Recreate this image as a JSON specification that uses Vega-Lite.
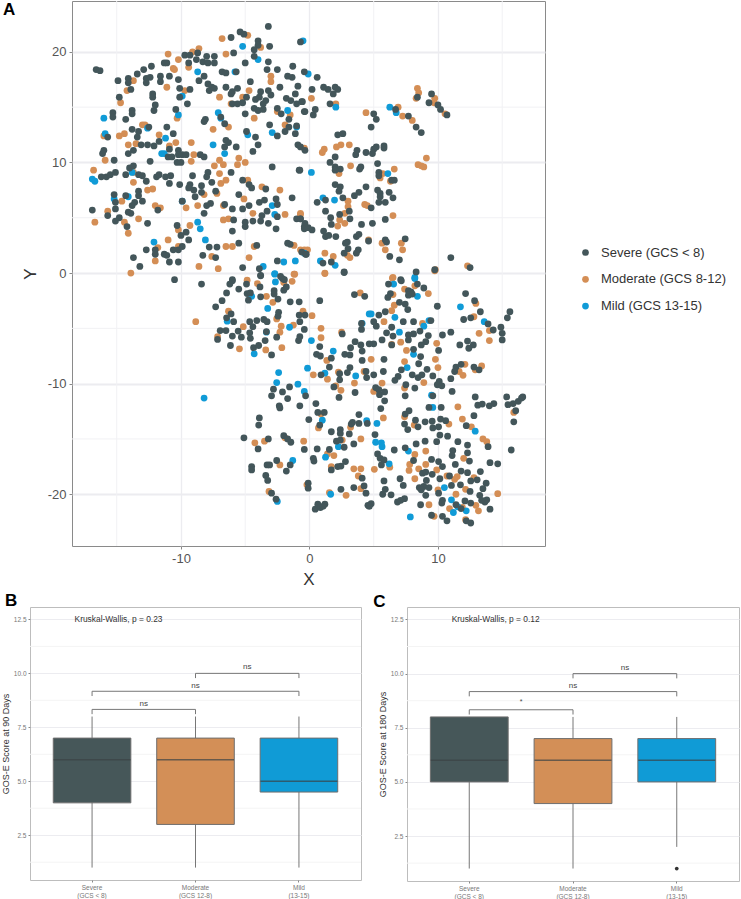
{"$schema":"https://vega.github.io/schema/vega-lite/v6.json","padding":{"left":0,"top":0,"right":0,"bottom":0},"background":"white","spacing":3,
"config":{"font":"Liberation Sans","axis":{"gridColor":"#ececf0","tickColor":"#888888","domain":false},"view":{"stroke":"#8a8a8a"}},
"datasets":{"pts":[
{"x":-6.8,"y":21.2,"g":"M"},{"x":-4.8,"y":21.5,"g":"M"},{"x":-3.8,"y":20.4,"g":"M"},{"x":-8.6,"y":20.3,"g":"M"},{"x":-9.1,"y":20.0,"g":"M"},{"x":-6.5,"y":19.8,"g":"M"},{"x":-11.0,"y":19.8,"g":"M"},{"x":-10.2,"y":19.3,"g":"M"},{"x":-9.4,"y":18.6,"g":"M"},{"x":-10.6,"y":18.5,"g":"M"},{"x":-10.5,"y":18.4,"g":"M"},{"x":-13.7,"y":17.4,"g":"M"},{"x":-11.1,"y":16.8,"g":"M"},{"x":-14.2,"y":16.5,"g":"M"},{"x":-9.7,"y":16.5,"g":"M"},{"x":-3.0,"y":17.8,"g":"M"},{"x":-3.0,"y":17.3,"g":"M"},{"x":-4.7,"y":16.5,"g":"M"},{"x":-7.0,"y":15.9,"g":"M"},{"x":-5.2,"y":15.9,"g":"M"},{"x":-6.1,"y":15.3,"g":"M"},{"x":-14.7,"y":15.4,"g":"M"},{"x":-10.3,"y":14.0,"g":"M"},{"x":-4.3,"y":14.0,"g":"M"},{"x":-2.5,"y":14.6,"g":"M"},{"x":-1.5,"y":14.3,"g":"M"},{"x":-13.0,"y":13.4,"g":"M"},{"x":-12.8,"y":13.4,"g":"M"},{"x":-7.5,"y":13.0,"g":"M"},{"x":-6.3,"y":13.2,"g":"M"},{"x":-1.9,"y":13.4,"g":"M"},{"x":-14.8,"y":12.4,"g":"M"},{"x":-14.4,"y":12.6,"g":"M"},{"x":-16.0,"y":12.4,"g":"M"},{"x":-11.7,"y":12.5,"g":"M"},{"x":-9.2,"y":11.8,"g":"M"},{"x":-10.4,"y":11.8,"g":"M"},{"x":-14.1,"y":11.6,"g":"M"},{"x":-13.5,"y":11.7,"g":"M"},{"x":-10.9,"y":11.5,"g":"M"},{"x":-9.0,"y":10.7,"g":"M"},{"x":-15.9,"y":10.2,"g":"M"},{"x":-9.2,"y":10.1,"g":"M"},{"x":-7.4,"y":9.7,"g":"M"},{"x":-7.0,"y":10.2,"g":"M"},{"x":-6.7,"y":9.8,"g":"M"},{"x":-5.6,"y":9.8,"g":"M"},{"x":-5.5,"y":10.4,"g":"M"},{"x":-5.0,"y":10.0,"g":"M"},{"x":-16.8,"y":9.3,"g":"M"},{"x":-13.7,"y":9.1,"g":"M"},{"x":-13.7,"y":8.2,"g":"M"},{"x":-7.0,"y":9.0,"g":"M"},{"x":-6.5,"y":8.4,"g":"M"},{"x":-6.9,"y":8.1,"g":"M"},{"x":-4.8,"y":8.4,"g":"M"},{"x":-3.7,"y":7.8,"g":"M"},{"x":-2.3,"y":7.5,"g":"M"},{"x":-12.6,"y":7.5,"g":"M"},{"x":-12.2,"y":7.6,"g":"M"},{"x":-7.2,"y":7.2,"g":"M"},{"x":-8.2,"y":7.1,"g":"M"},{"x":-5.1,"y":6.7,"g":"M"},{"x":-14.6,"y":6.5,"g":"M"},{"x":-12.0,"y":6.1,"g":"M"},{"x":-11.6,"y":5.9,"g":"M"},{"x":-9.6,"y":5.9,"g":"M"},{"x":-8.7,"y":6.1,"g":"M"},{"x":-6.7,"y":6.1,"g":"M"},{"x":-15.7,"y":5.6,"g":"M"},{"x":-4.4,"y":5.4,"g":"M"},{"x":-1.9,"y":5.3,"g":"M"},{"x":-0.7,"y":5.3,"g":"M"},{"x":-6.7,"y":4.8,"g":"M"},{"x":-6.3,"y":4.9,"g":"M"},{"x":-14.4,"y":4.6,"g":"M"},{"x":-16.7,"y":4.6,"g":"M"},{"x":-13.3,"y":4.9,"g":"M"},{"x":-14.1,"y":3.6,"g":"M"},{"x":-9.3,"y":4.3,"g":"M"},{"x":-10.2,"y":3.9,"g":"M"},{"x":-11.0,"y":3.0,"g":"M"},{"x":-10.2,"y":2.4,"g":"M"},{"x":-6.5,"y":2.4,"g":"M"},{"x":-6.0,"y":2.4,"g":"M"},{"x":-4.3,"y":2.4,"g":"M"},{"x":-1.2,"y":2.5,"g":"M"},{"x":-0.7,"y":2.1,"g":"M"},{"x":-4.7,"y":1.4,"g":"M"},{"x":-7.6,"y":1.5,"g":"M"},{"x":-12.0,"y":1.1,"g":"M"},{"x":-11.8,"y":2.3,"g":"M"},{"x":-8.6,"y":0.6,"g":"M"},{"x":-7.1,"y":0.4,"g":"M"},{"x":-13.9,"y":0.0,"g":"M"},{"x":-1.2,"y":-0.1,"g":"M"},{"x":-0.4,"y":2.1,"g":"M"},
{"x":0.15,"y":15.8,"g":"M"},{"x":2.05,"y":15.3,"g":"M"},{"x":4.4,"y":14.5,"g":"M"},{"x":6.9,"y":15.0,"g":"M"},{"x":8.4,"y":16.7,"g":"M"},{"x":8.5,"y":16.3,"g":"M"},{"x":8.3,"y":15.8,"g":"M"},{"x":9.75,"y":15.8,"g":"M"},{"x":9.7,"y":15.4,"g":"M"},{"x":7.25,"y":14.2,"g":"M"},{"x":8.0,"y":13.8,"g":"M"},{"x":10.55,"y":14.4,"g":"M"},{"x":3.1,"y":11.6,"g":"M"},{"x":2.45,"y":11.6,"g":"M"},{"x":2.1,"y":11.4,"g":"M"},{"x":1.15,"y":11.2,"g":"M"},{"x":1.0,"y":10.9,"g":"M"},{"x":-0.4,"y":11.3,"g":"M"},{"x":3.2,"y":9.7,"g":"M"},{"x":2.3,"y":9.0,"g":"M"},{"x":9.1,"y":10.4,"g":"M"},{"x":8.45,"y":9.8,"g":"M"},{"x":8.7,"y":9.7,"g":"M"},{"x":8.9,"y":9.6,"g":"M"},{"x":6.6,"y":9.4,"g":"M"},{"x":5.7,"y":9.0,"g":"M"},{"x":5.5,"y":8.6,"g":"M"},{"x":6.3,"y":8.3,"g":"M"},{"x":3.0,"y":6.5,"g":"M"},{"x":3.0,"y":6.0,"g":"M"},{"x":4.3,"y":6.2,"g":"M"},{"x":4.5,"y":6.1,"g":"M"},{"x":2.75,"y":5.4,"g":"M"},{"x":2.35,"y":4.8,"g":"M"},{"x":2.2,"y":4.25,"g":"M"},{"x":2.75,"y":4.5,"g":"M"},{"x":6.5,"y":5.2,"g":"M"},{"x":-0.7,"y":5.4,"g":"M"},{"x":4.6,"y":3.0,"g":"M"},{"x":5.65,"y":2.7,"g":"M"},{"x":7.15,"y":2.7,"g":"M"},{"x":5.9,"y":2.1,"g":"M"},{"x":7.25,"y":2.1,"g":"M"},{"x":1.2,"y":1.8,"g":"M"},{"x":1.85,"y":1.5,"g":"M"},{"x":2.95,"y":1.6,"g":"M"},{"x":3.15,"y":1.4,"g":"M"},{"x":-0.15,"y":2.1,"g":"M"},{"x":1.2,"y":0,"g":"M"},{"x":6.5,"y":-0.4,"g":"M"},{"x":12.3,"y":0.65,"g":"M"},{"x":9.8,"y":0.3,"g":"M"},
{"x":-4.85,"y":-0.65,"g":"M"},{"x":-4.05,"y":-0.95,"g":"M"},{"x":-1.35,"y":-0.75,"g":"M"},{"x":-1.15,"y":-0.1,"g":"M"},{"x":-2.0,"y":-0.85,"g":"M"},{"x":1.2,"y":-0.05,"g":"M"},{"x":3.95,"y":-1.8,"g":"M"},{"x":-3.35,"y":-2.1,"g":"M"},{"x":-2.85,"y":-2.65,"g":"M"},{"x":-6.3,"y":-3.45,"g":"M"},{"x":-8.85,"y":-4.4,"g":"M"},{"x":-2.55,"y":-4.15,"g":"M"},{"x":-0.5,"y":-3.45,"g":"M"},{"x":0.2,"y":-3.85,"g":"M"},{"x":-5.15,"y":-4.85,"g":"M"},{"x":-2.2,"y":-4.8,"g":"M"},{"x":-1.25,"y":-4.7,"g":"M"},{"x":-2.3,"y":-5.35,"g":"M"},{"x":-7.15,"y":-5.75,"g":"M"},{"x":-5.45,"y":-6.85,"g":"M"},{"x":-3.4,"y":-6.95,"g":"M"},{"x":-2.15,"y":-6.75,"g":"M"},{"x":0.9,"y":-5.0,"g":"M"},{"x":0.9,"y":-5.85,"g":"M"},{"x":2.5,"y":-5.35,"g":"M"},{"x":1.35,"y":-7.9,"g":"M"},{"x":0.3,"y":-9.2,"g":"M"},{"x":1.4,"y":-9.6,"g":"M"},{"x":2.25,"y":-8.95,"g":"M"},{"x":3.5,"y":-9.95,"g":"M"},{"x":2.05,"y":-10.2,"g":"M"},{"x":2.45,"y":-10.6,"g":"M"},{"x":0.9,"y":-12.75,"g":"M"},{"x":0.7,"y":-14,"g":"M"},{"x":3.2,"y":-13.95,"g":"M"},{"x":2.55,"y":-15.1,"g":"M"},{"x":4.0,"y":-15,"g":"M"},{"x":-4.25,"y":-15.35,"g":"M"},{"x":-3.5,"y":-15.2,"g":"M"},{"x":-1.9,"y":-14.9,"g":"M"},{"x":-0.45,"y":-15.2,"g":"M"},{"x":1.4,"y":-16.35,"g":"M"},{"x":1.9,"y":-16.5,"g":"M"},{"x":-2.3,"y":-17.35,"g":"M"},{"x":1.7,"y":-17.5,"g":"M"},{"x":3.45,"y":-17.7,"g":"M"},{"x":4.0,"y":-17.7,"g":"M"},{"x":3.8,"y":-18.35,"g":"M"},{"x":-0.2,"y":-19.15,"g":"M"},{"x":-3.15,"y":-19.75,"g":"M"},{"x":1.55,"y":-19.85,"g":"M"},{"x":2.85,"y":-20.1,"g":"M"},{"x":4.0,"y":-19.5,"g":"M"},
{"x":6.45,"y":-0.45,"g":"M"},{"x":7.4,"y":-1.45,"g":"M"},{"x":8.2,"y":-1.15,"g":"M"},{"x":9.75,"y":0.2,"g":"M"},{"x":9.25,"y":-1.85,"g":"M"},{"x":6.5,"y":-1.95,"g":"M"},{"x":6.6,"y":-2.9,"g":"M"},{"x":6.4,"y":-3.4,"g":"M"},{"x":12.95,"y":-2.75,"g":"M"},{"x":12.8,"y":-3.95,"g":"M"},{"x":5.8,"y":-4.4,"g":"M"},{"x":8.8,"y":-4.55,"g":"M"},{"x":14,"y":-5.2,"g":"M"},{"x":13.2,"y":-5.45,"g":"M"},{"x":14.0,"y":-6.1,"g":"M"},{"x":7.1,"y":-6.25,"g":"M"},{"x":9.9,"y":-6.35,"g":"M"},{"x":6.4,"y":-6.45,"g":"M"},{"x":7.55,"y":-7,"g":"M"},{"x":9.8,"y":-7.8,"g":"M"},{"x":7.4,"y":-8,"g":"M"},{"x":10,"y":-8.55,"g":"M"},{"x":4.8,"y":-7.8,"g":"M"},{"x":12.1,"y":-8.25,"g":"M"},{"x":13.4,"y":-8.4,"g":"M"},{"x":12.9,"y":-8.75,"g":"M"},{"x":11.65,"y":-8.9,"g":"M"},{"x":11.95,"y":-9.25,"g":"M"},{"x":8.9,"y":-9.9,"g":"M"},{"x":7.4,"y":-10.4,"g":"M"},{"x":5.65,"y":-9.95,"g":"M"},{"x":5.0,"y":-10.7,"g":"M"},{"x":4.25,"y":-8.9,"g":"M"},{"x":11.55,"y":-12.1,"g":"M"},{"x":11.9,"y":-13.2,"g":"M"},{"x":15.9,"y":-12.6,"g":"M"},{"x":7.4,"y":-13,"g":"M"},{"x":5.75,"y":-13.1,"g":"M"},{"x":8.15,"y":-13.75,"g":"M"},{"x":10.85,"y":-13.65,"g":"M"},{"x":12.6,"y":-13.9,"g":"M"},{"x":13.5,"y":-15,"g":"M"},{"x":13.8,"y":-15.25,"g":"M"},{"x":8.2,"y":-16.4,"g":"M"},{"x":9.05,"y":-16.1,"g":"M"},{"x":12,"y":-16.75,"g":"M"},{"x":7.8,"y":-17.3,"g":"M"},{"x":9.05,"y":-17.3,"g":"M"},{"x":8.5,"y":-17.7,"g":"M"},{"x":7.75,"y":-17.85,"g":"M"},{"x":9.9,"y":-17.8,"g":"M"},{"x":6.25,"y":-17.55,"g":"M"},{"x":5.05,"y":-17.75,"g":"M"},{"x":8.2,"y":-18.6,"g":"M"},{"x":10.7,"y":-18.35,"g":"M"},{"x":11.5,"y":-18.4,"g":"M"},{"x":11.3,"y":-18.65,"g":"M"},{"x":12.8,"y":-18.5,"g":"M"},{"x":12.15,"y":-19.55,"g":"M"},{"x":11.4,"y":-20,"g":"M"},{"x":14.65,"y":-19.95,"g":"M"},{"x":10,"y":-19.6,"g":"M"},{"x":9.3,"y":-20.95,"g":"M"},{"x":10.9,"y":-21.3,"g":"M"},{"x":11.9,"y":-21.2,"g":"M"},{"x":12.95,"y":-21,"g":"M"},{"x":13.15,"y":-21.5,"g":"M"},{"x":9.7,"y":-22,"g":"M"},{"x":12.15,"y":-22.3,"g":"M"},
{"x":-0.5,"y":21.0,"g":"L"},{"x":-5.2,"y":20.5,"g":"L"},{"x":-4.0,"y":19.3,"g":"L"},{"x":-8.7,"y":18.2,"g":"L"},{"x":-5.8,"y":18.2,"g":"L"},{"x":-0.1,"y":18.0,"g":"L"},{"x":-9.9,"y":16.0,"g":"L"},{"x":-10.2,"y":14.3,"g":"L"},{"x":-16.0,"y":14.0,"g":"L"},{"x":-7.1,"y":14.5,"g":"L"},{"x":-6.9,"y":14.0,"g":"L"},{"x":-1.7,"y":14.7,"g":"L"},{"x":-1.0,"y":13.2,"g":"L"},{"x":-15.9,"y":12.6,"g":"L"},{"x":-12.6,"y":13.1,"g":"L"},{"x":-2.9,"y":12.7,"g":"L"},{"x":-4.8,"y":12.5,"g":"L"},{"x":-11.2,"y":12.2,"g":"L"},{"x":-7.5,"y":11.6,"g":"L"},{"x":-11.5,"y":10.8,"g":"L"},{"x":-11.3,"y":10.8,"g":"L"},{"x":-6.6,"y":10.8,"g":"L"},{"x":-16.9,"y":8.5,"g":"L"},{"x":-16.7,"y":8.3,"g":"L"},{"x":-13.8,"y":9.1,"g":"L"},{"x":-15.2,"y":6.7,"g":"L"},{"x":-14.1,"y":6.9,"g":"L"},{"x":-9.9,"y":6.5,"g":"L"},{"x":-2.9,"y":6.1,"g":"L"},{"x":-2.7,"y":5.3,"g":"L"},{"x":-8.7,"y":4.6,"g":"L"},{"x":-8.5,"y":4.0,"g":"L"},{"x":-8.1,"y":3.0,"g":"L"},{"x":-12.1,"y":2.8,"g":"L"},{"x":-3.6,"y":0.6,"g":"L"},{"x":-2.0,"y":1.0,"g":"L"},{"x":-1.1,"y":1.1,"g":"L"},{"x":-2.7,"y":-0.1,"g":"L"},{"x":-0.4,"y":1.8,"g":"L"},
{"x":2.05,"y":15.0,"g":"L"},{"x":6.25,"y":15.0,"g":"L"},{"x":6.75,"y":14.5,"g":"L"},{"x":0.15,"y":9.1,"g":"L"},{"x":6.1,"y":9.0,"g":"L"},{"x":1.05,"y":6.8,"g":"L"},{"x":1.95,"y":6.6,"g":"L"},{"x":0.85,"y":1.1,"g":"L"},{"x":2.0,"y":0.7,"g":"L"},{"x":8.2,"y":-0.4,"g":"L"},
{"x":-2.7,"y":-0.05,"g":"L"},{"x":-2.65,"y":-0.8,"g":"L"},{"x":-4.5,"y":-2.1,"g":"L"},{"x":-3.25,"y":-3.2,"g":"L"},{"x":-6.4,"y":-4.35,"g":"L"},{"x":-3.35,"y":-5.35,"g":"L"},{"x":-1.55,"y":-4.9,"g":"L"},{"x":-4.3,"y":-7.3,"g":"L"},{"x":0.15,"y":-6.1,"g":"L"},{"x":1.85,"y":-7.05,"g":"L"},{"x":4.65,"y":-3.7,"g":"L"},{"x":4.1,"y":-4.55,"g":"L"},{"x":-2.4,"y":-9,"g":"L"},{"x":-0.15,"y":-8.6,"g":"L"},{"x":1.2,"y":-9.05,"g":"L"},{"x":3.6,"y":-9.3,"g":"L"},{"x":-2.55,"y":-9.9,"g":"L"},{"x":-0.9,"y":-10.05,"g":"L"},{"x":-0.4,"y":-10.7,"g":"L"},{"x":-8.2,"y":-11.3,"g":"L"},{"x":1.0,"y":-13.3,"g":"L"},{"x":4.45,"y":-13.35,"g":"L"},{"x":2.25,"y":-15.7,"g":"L"},{"x":1.25,"y":-16.65,"g":"L"},{"x":-1.3,"y":-16.95,"g":"L"},{"x":-2.5,"y":-20.65,"g":"L"},{"x":1.65,"y":-20.0,"g":"L"},
{"x":6.55,"y":-1,"g":"L"},{"x":8.2,"y":-0.5,"g":"L"},{"x":8.4,"y":-2.1,"g":"L"},{"x":4.8,"y":-3.7,"g":"L"},{"x":6.65,"y":-4,"g":"L"},{"x":11.75,"y":-3.05,"g":"L"},{"x":13.6,"y":-4.4,"g":"L"},{"x":9.3,"y":-4.3,"g":"L"},{"x":8.9,"y":-4.8,"g":"L"},{"x":7,"y":-5.35,"g":"L"},{"x":8.1,"y":-7.35,"g":"L"},{"x":7.6,"y":-8.55,"g":"L"},{"x":9.5,"y":-11.05,"g":"L"},{"x":9.6,"y":-12.15,"g":"L"},{"x":5.25,"y":-13.6,"g":"L"},{"x":12.9,"y":-14.3,"g":"L"},{"x":5.15,"y":-15.3,"g":"L"},{"x":5.6,"y":-15.35,"g":"L"},{"x":5.65,"y":-15.7,"g":"L"},{"x":7.7,"y":-16.1,"g":"L"},{"x":6.2,"y":-17.25,"g":"L"},{"x":10.5,"y":-19.4,"g":"L"},{"x":11.05,"y":-20.5,"g":"L"},{"x":11.55,"y":-21.15,"g":"L"},{"x":11.2,"y":-21.65,"g":"L"},{"x":12.2,"y":-21.5,"g":"L"},{"x":7.85,"y":-22.05,"g":"L"},
{"x":-16.6,"y":18.4,"g":"S"},{"x":-16.3,"y":18.3,"g":"S"},{"x":-14.9,"y":17.4,"g":"S"},{"x":-14.1,"y":17.6,"g":"S"},{"x":-14.1,"y":17.2,"g":"S"},{"x":-13.4,"y":18.0,"g":"S"},{"x":-12.9,"y":18.4,"g":"S"},{"x":-12.3,"y":18.7,"g":"S"},{"x":-12.7,"y":17.6,"g":"S"},{"x":-12.4,"y":17.7,"g":"S"},{"x":-12.7,"y":17.2,"g":"S"},{"x":-11.6,"y":17.8,"g":"S"},{"x":-11.6,"y":17.3,"g":"S"},{"x":-10.9,"y":17.8,"g":"S"},{"x":-11.3,"y":19.0,"g":"S"},{"x":-11.1,"y":19.0,"g":"S"},{"x":-10.2,"y":17.5,"g":"S"},{"x":-9.7,"y":19.7,"g":"S"},{"x":-9.3,"y":19.7,"g":"S"},{"x":-8.7,"y":19.9,"g":"S"},{"x":-8.8,"y":19.3,"g":"S"},{"x":-9.4,"y":19.0,"g":"S"},{"x":-8.0,"y":19.6,"g":"S"},{"x":-8.3,"y":19.1,"g":"S"},{"x":-7.9,"y":19.0,"g":"S"},{"x":-7.4,"y":19.6,"g":"S"},{"x":-7.4,"y":19.0,"g":"S"},{"x":-5.9,"y":19.9,"g":"S"},{"x":-6.1,"y":21.3,"g":"S"},{"x":-5.4,"y":21.8,"g":"S"},{"x":-5.1,"y":21.6,"g":"S"},{"x":-3.2,"y":22.3,"g":"S"},{"x":-4.0,"y":21.0,"g":"S"},{"x":-4.0,"y":20.6,"g":"S"},{"x":-4.3,"y":20.2,"g":"S"},{"x":-3.1,"y":20.5,"g":"S"},{"x":-4.3,"y":19.6,"g":"S"},{"x":-3.2,"y":19.1,"g":"S"},{"x":-5.0,"y":19.0,"g":"S"},{"x":-0.7,"y":20.9,"g":"S"},{"x":-3.3,"y":18.4,"g":"S"},{"x":-2.5,"y":18.4,"g":"S"},{"x":-1.3,"y":18.7,"g":"S"},{"x":-0.4,"y":18.2,"g":"S"},{"x":-6.8,"y":18.2,"g":"S"},{"x":-6.5,"y":18.1,"g":"S"},{"x":-5.7,"y":18.2,"g":"S"},{"x":-8.6,"y":17.4,"g":"S"},{"x":-8.2,"y":17.8,"g":"S"},{"x":-7.9,"y":17.1,"g":"S"},{"x":-7.6,"y":16.8,"g":"S"},{"x":-7.8,"y":16.5,"g":"S"},{"x":-7.4,"y":16.7,"g":"S"},{"x":-10.1,"y":16.7,"g":"S"},{"x":-9.3,"y":16.6,"g":"S"},{"x":-10.1,"y":15.9,"g":"S"},{"x":-13.9,"y":16.6,"g":"S"},{"x":-12.2,"y":16.2,"g":"S"},{"x":-12.2,"y":15.9,"g":"S"},{"x":-14.8,"y":15.9,"g":"S"},{"x":-9.5,"y":15.3,"g":"S"},{"x":-12.0,"y":15.2,"g":"S"},{"x":-12.1,"y":14.7,"g":"S"},{"x":-10.4,"y":14.8,"g":"S"},{"x":-15.3,"y":14.5,"g":"S"},{"x":-15.3,"y":14.1,"g":"S"},{"x":-13.8,"y":14.7,"g":"S"},{"x":-13.8,"y":14.4,"g":"S"},{"x":-14.3,"y":13.9,"g":"S"},{"x":-6.5,"y":16.8,"g":"S"},{"x":-6.0,"y":16.4,"g":"S"},{"x":-6.1,"y":16.2,"g":"S"},{"x":-5.6,"y":16.7,"g":"S"},{"x":-4.6,"y":17.3,"g":"S"},{"x":-2.3,"y":16.8,"g":"S"},{"x":-1.7,"y":17.8,"g":"S"},{"x":-1.35,"y":17.7,"g":"S"},{"x":-0.9,"y":16.9,"g":"S"},{"x":-3.8,"y":16.4,"g":"S"},{"x":-3.2,"y":16.5,"g":"S"},{"x":-3.9,"y":15.9,"g":"S"},{"x":-4.2,"y":15.7,"g":"S"},{"x":-3.0,"y":16.1,"g":"S"},{"x":-3.4,"y":15.6,"g":"S"},{"x":-3.6,"y":15.3,"g":"S"},{"x":-4.9,"y":15.9,"g":"S"},{"x":-5.2,"y":15.4,"g":"S"},{"x":-5.6,"y":15.3,"g":"S"},{"x":-6.0,"y":15.3,"g":"S"},{"x":-1.1,"y":16.2,"g":"S"},{"x":-1.8,"y":15.8,"g":"S"},{"x":-1.45,"y":15.6,"g":"S"},{"x":-1.0,"y":15.3,"g":"S"},{"x":-0.6,"y":15.5,"g":"S"},{"x":-4.3,"y":14.9,"g":"S"},{"x":-4.0,"y":14.7,"g":"S"},{"x":-3.6,"y":14.8,"g":"S"},{"x":-5.0,"y":14.4,"g":"S"},{"x":-2.5,"y":14.9,"g":"S"},{"x":-2.2,"y":14.4,"g":"S"},{"x":-0.4,"y":14.6,"g":"S"},{"x":-1.6,"y":13.9,"g":"S"},{"x":-3.1,"y":13.4,"g":"S"},{"x":-1.0,"y":13.3,"g":"S"},{"x":-1.9,"y":12.8,"g":"S"},{"x":-1.1,"y":12.6,"g":"S"},{"x":-1.6,"y":13.2,"g":"S"},{"x":-8.1,"y":13.9,"g":"S"},{"x":-8.2,"y":13.7,"g":"S"},{"x":-6.9,"y":14.1,"g":"S"},{"x":-6.6,"y":13.5,"g":"S"},{"x":-11.1,"y":13.2,"g":"S"},{"x":-12.5,"y":13.2,"g":"S"},{"x":-13.8,"y":13.0,"g":"S"},{"x":-13.3,"y":12.8,"g":"S"},{"x":-15.7,"y":12.3,"g":"S"},{"x":-10.6,"y":12.6,"g":"S"},{"x":-13.4,"y":12.3,"g":"S"},{"x":-4.9,"y":12.8,"g":"S"},{"x":-2.5,"y":12.4,"g":"S"},{"x":-4.2,"y":12.3,"g":"S"},{"x":-4.0,"y":11.6,"g":"S"},{"x":-4.4,"y":11.0,"g":"S"},{"x":-6.5,"y":12.0,"g":"S"},{"x":-6.3,"y":11.8,"g":"S"},{"x":-6.6,"y":11.4,"g":"S"},{"x":-5.7,"y":11.4,"g":"S"},{"x":-0.9,"y":11.6,"g":"S"},{"x":-0.7,"y":11.4,"g":"S"},{"x":-16.0,"y":11.1,"g":"S"},{"x":-16.1,"y":10.8,"g":"S"},{"x":-13.7,"y":11.1,"g":"S"},{"x":-14.1,"y":10.8,"g":"S"},{"x":-13.1,"y":11.6,"g":"S"},{"x":-12.6,"y":11.6,"g":"S"},{"x":-12.1,"y":11.5,"g":"S"},{"x":-11.7,"y":11.9,"g":"S"},{"x":-10.9,"y":11.2,"g":"S"},{"x":-15.2,"y":10.2,"g":"S"},{"x":-12.4,"y":10.1,"g":"S"},{"x":-11.0,"y":10.5,"g":"S"},{"x":-10.7,"y":10.5,"g":"S"},{"x":-10.2,"y":11.1,"g":"S"},{"x":-10.2,"y":10.7,"g":"S"},{"x":-9.9,"y":10.7,"g":"S"},{"x":-9.6,"y":10.7,"g":"S"},{"x":-10.3,"y":10.0,"g":"S"},{"x":-10.0,"y":10.0,"g":"S"},{"x":-8.5,"y":10.7,"g":"S"},{"x":-8.2,"y":10.5,"g":"S"},{"x":-2.9,"y":9.6,"g":"S"},{"x":-0.8,"y":9.3,"g":"S"},{"x":-14.0,"y":9.5,"g":"S"},{"x":-13.7,"y":9.7,"g":"S"},{"x":-16.2,"y":8.7,"g":"S"},{"x":-15.8,"y":8.7,"g":"S"},{"x":-15.5,"y":8.9,"g":"S"},{"x":-15.1,"y":9.1,"g":"S"},{"x":-14.3,"y":8.9,"g":"S"},{"x":-13.3,"y":8.9,"g":"S"},{"x":-13.0,"y":8.8,"g":"S"},{"x":-12.7,"y":8.3,"g":"S"},{"x":-11.9,"y":8.7,"g":"S"},{"x":-11.7,"y":8.9,"g":"S"},{"x":-11.2,"y":8.7,"g":"S"},{"x":-10.8,"y":8.8,"g":"S"},{"x":-10.9,"y":8.1,"g":"S"},{"x":-9.1,"y":8.8,"g":"S"},{"x":-7.9,"y":9.1,"g":"S"},{"x":-6.1,"y":9.1,"g":"S"},{"x":-8.0,"y":8.7,"g":"S"},{"x":-7.6,"y":8.2,"g":"S"},{"x":-10.1,"y":8.0,"g":"S"},{"x":-9.3,"y":8.0,"g":"S"},{"x":-9.4,"y":7.7,"g":"S"},{"x":-9.0,"y":7.5,"g":"S"},{"x":-8.4,"y":7.9,"g":"S"},{"x":-7.3,"y":7.4,"g":"S"},{"x":-5.2,"y":8.4,"g":"S"},{"x":-4.7,"y":8.0,"g":"S"},{"x":-4.5,"y":7.7,"g":"S"},{"x":-5.5,"y":7.1,"g":"S"},{"x":-3.4,"y":7.6,"g":"S"},{"x":-8.4,"y":7.3,"g":"S"},{"x":-8.9,"y":6.9,"g":"S"},{"x":-15.2,"y":7.1,"g":"S"},{"x":-14.3,"y":7.0,"g":"S"},{"x":-13.3,"y":7.4,"g":"S"},{"x":-13.3,"y":7.0,"g":"S"},{"x":-13.6,"y":6.4,"g":"S"},{"x":-13.0,"y":6.5,"g":"S"},{"x":-13.8,"y":6.1,"g":"S"},{"x":-15.1,"y":6.4,"g":"S"},{"x":-15.1,"y":5.8,"g":"S"},{"x":-11.8,"y":5.7,"g":"S"},{"x":-16.9,"y":5.7,"g":"S"},{"x":-15.7,"y":5.2,"g":"S"},{"x":-14.1,"y":5.5,"g":"S"},{"x":-13.9,"y":5.4,"g":"S"},{"x":-14.8,"y":5.0,"g":"S"},{"x":-15.1,"y":4.7,"g":"S"},{"x":-14.2,"y":4.2,"g":"S"},{"x":-12.6,"y":4.5,"g":"S"},{"x":-9.9,"y":6.5,"g":"S"},{"x":-7.7,"y":6.3,"g":"S"},{"x":-8.0,"y":6.1,"g":"S"},{"x":-6.6,"y":6.2,"g":"S"},{"x":-8.2,"y":5.4,"g":"S"},{"x":-6.0,"y":5.8,"g":"S"},{"x":-5.2,"y":5.8,"g":"S"},{"x":-4.7,"y":6.1,"g":"S"},{"x":-3.9,"y":6.4,"g":"S"},{"x":-3.5,"y":6.6,"g":"S"},{"x":-2.6,"y":6.7,"g":"S"},{"x":-2.5,"y":6.2,"g":"S"},{"x":-1.35,"y":6.8,"g":"S"},{"x":-3.3,"y":5.6,"g":"S"},{"x":-3.7,"y":5.2,"g":"S"},{"x":-2.5,"y":5.1,"g":"S"},{"x":-5.9,"y":4.8,"g":"S"},{"x":-5.0,"y":4.6,"g":"S"},{"x":-5.0,"y":4.2,"g":"S"},{"x":-4.4,"y":4.7,"g":"S"},{"x":-3.8,"y":4.7,"g":"S"},{"x":-3.2,"y":4.5,"g":"S"},{"x":-2.6,"y":4.0,"g":"S"},{"x":-6.0,"y":3.8,"g":"S"},{"x":-1.0,"y":4.9,"g":"S"},{"x":-0.7,"y":4.9,"g":"S"},{"x":-0.4,"y":4.2,"g":"S"},{"x":-10.3,"y":4.3,"g":"S"},{"x":-9.6,"y":3.7,"g":"S"},{"x":-10.0,"y":3.4,"g":"S"},{"x":-9.4,"y":3.0,"g":"S"},{"x":-1.7,"y":2.7,"g":"S"},{"x":-1.5,"y":2.6,"g":"S"},{"x":-0.6,"y":1.9,"g":"S"},{"x":-0.3,"y":1.7,"g":"S"},{"x":-5.5,"y":2.7,"g":"S"},{"x":-7.8,"y":2.35,"g":"S"},{"x":-7.2,"y":2.35,"g":"S"},{"x":-4.1,"y":2.5,"g":"S"},{"x":-12.7,"y":2.1,"g":"S"},{"x":-12.0,"y":2.1,"g":"S"},{"x":-13.7,"y":1.4,"g":"S"},{"x":-13.2,"y":0.6,"g":"S"},{"x":-12.0,"y":1.7,"g":"S"},{"x":-11.3,"y":1.7,"g":"S"},{"x":-11.1,"y":1.6,"g":"S"},{"x":-10.9,"y":1.0,"g":"S"},{"x":-10.2,"y":1.0,"g":"S"},{"x":-10.6,"y":2.1,"g":"S"},{"x":-10.2,"y":2.1,"g":"S"},{"x":-9.9,"y":2.4,"g":"S"},{"x":-8.3,"y":1.6,"g":"S"},{"x":-7.3,"y":1.4,"g":"S"},{"x":-5.2,"y":0.5,"g":"S"},{"x":-3.9,"y":0.4,"g":"S"},{"x":-3.8,"y":-0.2,"g":"S"},{"x":-2.5,"y":1.1,"g":"S"},{"x":-10.5,"y":-0.6,"g":"S"},{"x":-6.0,"y":-0.6,"g":"S"},{"x":-2.1,"y":-0.5,"g":"S"},
{"x":0.6,"y":17.7,"g":"S"},{"x":1.1,"y":16.8,"g":"S"},{"x":1.45,"y":16.6,"g":"S"},{"x":2.0,"y":16.8,"g":"S"},{"x":2.2,"y":16.6,"g":"S"},{"x":1.85,"y":16.2,"g":"S"},{"x":0.2,"y":16.6,"g":"S"},{"x":-0.55,"y":15.5,"g":"S"},{"x":1.6,"y":15.3,"g":"S"},{"x":0.45,"y":14.8,"g":"S"},{"x":-0.35,"y":14.6,"g":"S"},{"x":0.3,"y":14.3,"g":"S"},{"x":5.0,"y":14.4,"g":"S"},{"x":5.2,"y":13.9,"g":"S"},{"x":4.8,"y":13.2,"g":"S"},{"x":6.7,"y":14.8,"g":"S"},{"x":8.4,"y":15.9,"g":"S"},{"x":9.5,"y":16.2,"g":"S"},{"x":9.3,"y":15.4,"g":"S"},{"x":10.0,"y":15.2,"g":"S"},{"x":10.2,"y":14.8,"g":"S"},{"x":10.7,"y":14.3,"g":"S"},{"x":7.7,"y":14.2,"g":"S"},{"x":8.3,"y":13.2,"g":"S"},{"x":8.7,"y":12.7,"g":"S"},{"x":2.2,"y":12.5,"g":"S"},{"x":2.6,"y":12.6,"g":"S"},{"x":2.0,"y":10.5,"g":"S"},{"x":1.6,"y":10.0,"g":"S"},{"x":2.0,"y":9.6,"g":"S"},{"x":2.4,"y":9.4,"g":"S"},{"x":2.0,"y":9.3,"g":"S"},{"x":3.7,"y":11.1,"g":"S"},{"x":3.6,"y":10.7,"g":"S"},{"x":4.4,"y":10.9,"g":"S"},{"x":4.9,"y":10.8,"g":"S"},{"x":5.0,"y":11.2,"g":"S"},{"x":5.2,"y":11.4,"g":"S"},{"x":5.8,"y":11.5,"g":"S"},{"x":5.8,"y":11.3,"g":"S"},{"x":-0.35,"y":11.1,"g":"S"},{"x":5.3,"y":9.9,"g":"S"},{"x":4.0,"y":9.6,"g":"S"},{"x":3.9,"y":9.4,"g":"S"},{"x":5.4,"y":9.1,"g":"S"},{"x":5.4,"y":8.8,"g":"S"},{"x":6.4,"y":8.4,"g":"S"},{"x":6.6,"y":8.4,"g":"S"},{"x":-0.75,"y":9.3,"g":"S"},{"x":2.0,"y":8.0,"g":"S"},{"x":2.4,"y":7.8,"g":"S"},{"x":2.3,"y":7.4,"g":"S"},{"x":4.4,"y":7.8,"g":"S"},{"x":3.85,"y":7.3,"g":"S"},{"x":3.5,"y":7.0,"g":"S"},{"x":5.3,"y":7.5,"g":"S"},{"x":5.5,"y":7.2,"g":"S"},{"x":5.5,"y":6.9,"g":"S"},{"x":6.2,"y":7.3,"g":"S"},{"x":6.5,"y":6.8,"g":"S"},{"x":5.4,"y":6.4,"g":"S"},{"x":5.9,"y":6.4,"g":"S"},{"x":4.8,"y":5.9,"g":"S"},{"x":2.6,"y":6.8,"g":"S"},{"x":0.6,"y":6.4,"g":"S"},{"x":1.25,"y":6.6,"g":"S"},{"x":1.25,"y":5.6,"g":"S"},{"x":3.1,"y":5.6,"g":"S"},{"x":2.35,"y":5.3,"g":"S"},{"x":1.65,"y":5.0,"g":"S"},{"x":1.7,"y":4.4,"g":"S"},{"x":3.15,"y":4.9,"g":"S"},{"x":4.05,"y":4.4,"g":"S"},{"x":4.9,"y":4.5,"g":"S"},{"x":5.9,"y":4.85,"g":"S"},{"x":-0.7,"y":4.9,"g":"S"},{"x":-0.35,"y":4.5,"g":"S"},{"x":-0.4,"y":4.0,"g":"S"},{"x":-0.1,"y":4.1,"g":"S"},{"x":0.2,"y":3.9,"g":"S"},{"x":1.1,"y":3.8,"g":"S"},{"x":1.25,"y":3.3,"g":"S"},{"x":1.5,"y":3.4,"g":"S"},{"x":2.05,"y":3.3,"g":"S"},{"x":3.65,"y":3.3,"g":"S"},{"x":3.85,"y":3.5,"g":"S"},{"x":2.95,"y":2.8,"g":"S"},{"x":2.8,"y":2.7,"g":"S"},{"x":3.0,"y":2.2,"g":"S"},{"x":2.7,"y":1.8,"g":"S"},{"x":3.8,"y":2.1,"g":"S"},{"x":3.65,"y":1.8,"g":"S"},{"x":4.6,"y":2.9,"g":"S"},{"x":5.9,"y":3.0,"g":"S"},{"x":6.0,"y":2.8,"g":"S"},{"x":7.45,"y":3.1,"g":"S"},{"x":6.25,"y":1.5,"g":"S"},{"x":7.0,"y":1.2,"g":"S"},{"x":11.0,"y":1.4,"g":"S"},{"x":12.5,"y":0.5,"g":"S"},{"x":9.75,"y":0.3,"g":"S"},{"x":8.3,"y":0.1,"g":"S"},{"x":1.05,"y":0.9,"g":"S"},{"x":1.7,"y":1.0,"g":"S"},{"x":-0.25,"y":1.7,"g":"S"},{"x":2.7,"y":0.1,"g":"S"},{"x":7.1,"y":-0.6,"g":"S"},
{"x":-8.4,"y":-1.0,"g":"S"},{"x":-6.0,"y":-0.7,"g":"S"},{"x":-6.2,"y":-1.0,"g":"S"},{"x":-6.45,"y":-1.8,"g":"S"},{"x":-6.8,"y":-2.5,"g":"S"},{"x":-7.3,"y":-3.05,"g":"S"},{"x":-5.5,"y":-1.45,"g":"S"},{"x":-4.9,"y":-1.0,"g":"S"},{"x":-3.8,"y":-0.25,"g":"S"},{"x":-3.85,"y":-1.25,"g":"S"},{"x":-4.85,"y":-1.85,"g":"S"},{"x":-4.6,"y":-1.8,"g":"S"},{"x":-4.75,"y":-2.45,"g":"S"},{"x":-3.8,"y":-2.15,"g":"S"},{"x":-2.75,"y":-1.6,"g":"S"},{"x":-2.75,"y":-1.9,"g":"S"},{"x":-2.45,"y":-2.35,"g":"S"},{"x":-2.0,"y":-1.55,"g":"S"},{"x":-1.8,"y":-1.25,"g":"S"},{"x":-2.25,"y":-0.3,"g":"S"},{"x":-1.95,"y":-0.6,"g":"S"},{"x":-1.5,"y":-2.6,"g":"S"},{"x":-0.8,"y":-2.6,"g":"S"},{"x":0.8,"y":-2.5,"g":"S"},{"x":2.7,"y":0.05,"g":"S"},{"x":3.5,"y":-1.95,"g":"S"},{"x":4.3,"y":-2.1,"g":"S"},{"x":-6.1,"y":-3.7,"g":"S"},{"x":-6.45,"y":-4.05,"g":"S"},{"x":-5.9,"y":-4.4,"g":"S"},{"x":-4.65,"y":-4.4,"g":"S"},{"x":-4.1,"y":-4.3,"g":"S"},{"x":-3.55,"y":-4.2,"g":"S"},{"x":-3.3,"y":-4.4,"g":"S"},{"x":-2.4,"y":-3.55,"g":"S"},{"x":-2.45,"y":-3.9,"g":"S"},{"x":-0.8,"y":-3.8,"g":"S"},{"x":-0.35,"y":-3.8,"g":"S"},{"x":-0.75,"y":-4.4,"g":"S"},{"x":-4.4,"y":-4.85,"g":"S"},{"x":-4.65,"y":-5.4,"g":"S"},{"x":-4.6,"y":-5.9,"g":"S"},{"x":-3.35,"y":-5.3,"g":"S"},{"x":-6.95,"y":-5.2,"g":"S"},{"x":-6.5,"y":-5.2,"g":"S"},{"x":-5.55,"y":-5.25,"g":"S"},{"x":-6.0,"y":-5.7,"g":"S"},{"x":-5.3,"y":-5.8,"g":"S"},{"x":-7.15,"y":-6.0,"g":"S"},{"x":-6.15,"y":-6.55,"g":"S"},{"x":-3.45,"y":-6.1,"g":"S"},{"x":-2.55,"y":-5.8,"g":"S"},{"x":-0.4,"y":-5.1,"g":"S"},{"x":-0.75,"y":-5.75,"g":"S"},{"x":-0.85,"y":-6.1,"g":"S"},{"x":-4.35,"y":-6.75,"g":"S"},{"x":-3.95,"y":-6.55,"g":"S"},{"x":-2.95,"y":-7.4,"g":"S"},{"x":2.55,"y":-5.5,"g":"S"},{"x":4.05,"y":-4.55,"g":"S"},{"x":4.05,"y":-5.1,"g":"S"},{"x":3.55,"y":-6.2,"g":"S"},{"x":4.0,"y":-6.5,"g":"S"},{"x":4.1,"y":-7.05,"g":"S"},{"x":3.2,"y":-6.75,"g":"S"},{"x":2.75,"y":-7.35,"g":"S"},{"x":3.15,"y":-7.4,"g":"S"},{"x":4.1,"y":-7.9,"g":"S"},{"x":0.8,"y":-6.65,"g":"S"},{"x":0.55,"y":-7.35,"g":"S"},{"x":0.85,"y":-7.5,"g":"S"},{"x":1.7,"y":-7.7,"g":"S"},{"x":1.55,"y":-8.5,"g":"S"},{"x":0.9,"y":-9.2,"g":"S"},{"x":2.35,"y":-9.1,"g":"S"},{"x":2.35,"y":-9.65,"g":"S"},{"x":3.15,"y":-8.55,"g":"S"},{"x":2.95,"y":-9.0,"g":"S"},{"x":4.4,"y":-8.9,"g":"S"},{"x":4.45,"y":-9.45,"g":"S"},{"x":1.9,"y":-10.3,"g":"S"},{"x":2.3,"y":-11.25,"g":"S"},{"x":3.55,"y":-10.8,"g":"S"},{"x":-2.8,"y":-10.5,"g":"S"},{"x":-2.95,"y":-11.1,"g":"S"},{"x":-2.1,"y":-10.75,"g":"S"},{"x":-1.55,"y":-10.3,"g":"S"},{"x":-1.7,"y":-11.35,"g":"S"},{"x":-2.35,"y":-12.0,"g":"S"},{"x":-2.3,"y":-12.2,"g":"S"},{"x":-0.3,"y":-11.1,"g":"S"},{"x":-0.75,"y":-12.0,"g":"S"},{"x":0.5,"y":-11.8,"g":"S"},{"x":0.65,"y":-12.6,"g":"S"},{"x":1.15,"y":-12.6,"g":"S"},{"x":-0.05,"y":-13.25,"g":"S"},{"x":0.8,"y":-13.75,"g":"S"},{"x":3.85,"y":-12.8,"g":"S"},{"x":3.35,"y":-13.5,"g":"S"},{"x":3.25,"y":-13.65,"g":"S"},{"x":3.85,"y":-13.6,"g":"S"},{"x":-3.9,"y":-13.1,"g":"S"},{"x":-3.95,"y":-13.75,"g":"S"},{"x":-5.1,"y":-14.9,"g":"S"},{"x":-3.2,"y":-15.0,"g":"S"},{"x":-2.0,"y":-14.7,"g":"S"},{"x":-1.7,"y":-15.0,"g":"S"},{"x":-1.45,"y":-15.3,"g":"S"},{"x":-4.0,"y":-15.9,"g":"S"},{"x":1.7,"y":-14.35,"g":"S"},{"x":2.4,"y":-14.15,"g":"S"},{"x":2.4,"y":-14.5,"g":"S"},{"x":3.1,"y":-14.55,"g":"S"},{"x":2.1,"y":-15.2,"g":"S"},{"x":2.4,"y":-15.1,"g":"S"},{"x":2.7,"y":-15.75,"g":"S"},{"x":3.45,"y":-15.45,"g":"S"},{"x":-0.4,"y":-15.95,"g":"S"},{"x":0.6,"y":-15.9,"g":"S"},{"x":1.55,"y":-15.95,"g":"S"},{"x":-4.5,"y":-17.5,"g":"S"},{"x":-4.5,"y":-17.8,"g":"S"},{"x":-3.3,"y":-17.35,"g":"S"},{"x":-3.1,"y":-17.35,"g":"S"},{"x":-2.55,"y":-16.95,"g":"S"},{"x":-1.5,"y":-17.35,"g":"S"},{"x":-1.8,"y":-17.9,"g":"S"},{"x":0.3,"y":-16.75,"g":"S"},{"x":0.35,"y":-17,"g":"S"},{"x":1.7,"y":-17.8,"g":"S"},{"x":2.2,"y":-17.5,"g":"S"},{"x":2.45,"y":-17.45,"g":"S"},{"x":2.8,"y":-17.05,"g":"S"},{"x":4.1,"y":-18.55,"g":"S"},{"x":-3.4,"y":-18.3,"g":"S"},{"x":-3.25,"y":-18.75,"g":"S"},{"x":-0.1,"y":-19.0,"g":"S"},{"x":-0.1,"y":-19.45,"g":"S"},{"x":-2.95,"y":-19.9,"g":"S"},{"x":-2.6,"y":-20.45,"g":"S"},{"x":2.45,"y":-19.55,"g":"S"},{"x":3.45,"y":-19.4,"g":"S"},{"x":4.25,"y":-19.25,"g":"S"},{"x":4.4,"y":-19.9,"g":"S"},{"x":0.45,"y":-21.35,"g":"S"},{"x":0.65,"y":-20.9,"g":"S"},{"x":0.85,"y":-21.2,"g":"S"},{"x":1.2,"y":-20.9,"g":"S"},{"x":1.05,"y":-21.1,"g":"S"},{"x":4.55,"y":-21,"g":"S"},
{"x":6.15,"y":-1.0,"g":"S"},{"x":7.15,"y":-0.7,"g":"S"},{"x":8.4,"y":-1.0,"g":"S"},{"x":8.9,"y":-1.35,"g":"S"},{"x":7.7,"y":-1.6,"g":"S"},{"x":7.9,"y":-1.7,"g":"S"},{"x":7.7,"y":-2.0,"g":"S"},{"x":8.0,"y":-1.9,"g":"S"},{"x":6.3,"y":-1.85,"g":"S"},{"x":6.1,"y":-2.2,"g":"S"},{"x":9.95,"y":-3.0,"g":"S"},{"x":12.15,"y":-1.85,"g":"S"},{"x":12.85,"y":-2.5,"g":"S"},{"x":13.3,"y":-3.5,"g":"S"},{"x":15.6,"y":-3.5,"g":"S"},{"x":15.4,"y":-4.05,"g":"S"},{"x":7.0,"y":-2.65,"g":"S"},{"x":7.45,"y":-2.8,"g":"S"},{"x":7.65,"y":-3.3,"g":"S"},{"x":5.4,"y":-3.8,"g":"S"},{"x":5.9,"y":-3.5,"g":"S"},{"x":5.0,"y":-4.4,"g":"S"},{"x":5.2,"y":-4.8,"g":"S"},{"x":7.3,"y":-4.4,"g":"S"},{"x":8.1,"y":-4.4,"g":"S"},{"x":9.45,"y":-4.3,"g":"S"},{"x":12.55,"y":-4.05,"g":"S"},{"x":12.0,"y":-4.2,"g":"S"},{"x":13.9,"y":-4.6,"g":"S"},{"x":14.3,"y":-5.15,"g":"S"},{"x":14.9,"y":-4.9,"g":"S"},{"x":15.0,"y":-5.45,"g":"S"},{"x":15.0,"y":-6.05,"g":"S"},{"x":6.4,"y":-4.9,"g":"S"},{"x":6.0,"y":-5.4,"g":"S"},{"x":6.5,"y":-5.7,"g":"S"},{"x":6.4,"y":-6.5,"g":"S"},{"x":5.65,"y":-6.05,"g":"S"},{"x":5.0,"y":-6.4,"g":"S"},{"x":4.65,"y":-6.4,"g":"S"},{"x":8.6,"y":-5.25,"g":"S"},{"x":8.1,"y":-5.5,"g":"S"},{"x":7.7,"y":-5.6,"g":"S"},{"x":7.7,"y":-6.05,"g":"S"},{"x":9.25,"y":-5.65,"g":"S"},{"x":9.05,"y":-6.2,"g":"S"},{"x":8.7,"y":-6.5,"g":"S"},{"x":8.1,"y":-6.9,"g":"S"},{"x":10.35,"y":-5.6,"g":"S"},{"x":11.0,"y":-5.35,"g":"S"},{"x":11.7,"y":-6.5,"g":"S"},{"x":12.3,"y":-6.15,"g":"S"},{"x":12.75,"y":-6.5,"g":"S"},{"x":12.4,"y":-6.8,"g":"S"},{"x":10.05,"y":-7,"g":"S"},{"x":8.65,"y":-7.55,"g":"S"},{"x":5.8,"y":-7.8,"g":"S"},{"x":8.5,"y":-8.2,"g":"S"},{"x":7.15,"y":-8.75,"g":"S"},{"x":6.9,"y":-9.35,"g":"S"},{"x":6.65,"y":-9.7,"g":"S"},{"x":5.75,"y":-8.9,"g":"S"},{"x":5.0,"y":-9.2,"g":"S"},{"x":8.0,"y":-9.2,"g":"S"},{"x":8.45,"y":-9.45,"g":"S"},{"x":8.75,"y":-9.2,"g":"S"},{"x":9.15,"y":-8.7,"g":"S"},{"x":9.6,"y":-9.3,"g":"S"},{"x":11.8,"y":-8.25,"g":"S"},{"x":11.4,"y":-8.5,"g":"S"},{"x":11.3,"y":-8.9,"g":"S"},{"x":11.0,"y":-9.55,"g":"S"},{"x":12.8,"y":-8.5,"g":"S"},{"x":13.2,"y":-8.75,"g":"S"},{"x":7.5,"y":-10.1,"g":"S"},{"x":8.2,"y":-10.4,"g":"S"},{"x":7.45,"y":-11.1,"g":"S"},{"x":10.1,"y":-9.8,"g":"S"},{"x":9.95,"y":-10.1,"g":"S"},{"x":10.3,"y":-10.2,"g":"S"},{"x":11.1,"y":-10.7,"g":"S"},{"x":9.6,"y":-11.1,"g":"S"},{"x":5.15,"y":-10.35,"g":"S"},{"x":5.4,"y":-10.55,"g":"S"},{"x":5.45,"y":-11,"g":"S"},{"x":5.85,"y":-10.75,"g":"S"},{"x":5.85,"y":-11.55,"g":"S"},{"x":5.55,"y":-12.25,"g":"S"},{"x":12.9,"y":-11.2,"g":"S"},{"x":13.1,"y":-11.95,"g":"S"},{"x":13.45,"y":-11.85,"g":"S"},{"x":14,"y":-12,"g":"S"},{"x":14.35,"y":-11.8,"g":"S"},{"x":15.35,"y":-11.2,"g":"S"},{"x":15.45,"y":-11.9,"g":"S"},{"x":15.85,"y":-11.8,"g":"S"},{"x":16.25,"y":-11.6,"g":"S"},{"x":16.6,"y":-11.2,"g":"S"},{"x":16.5,"y":-11.3,"g":"S"},{"x":16.05,"y":-12.45,"g":"S"},{"x":15.9,"y":-13.45,"g":"S"},{"x":12.8,"y":-12.9,"g":"S"},{"x":9.3,"y":-12.15,"g":"S"},{"x":10.25,"y":-12.15,"g":"S"},{"x":7.75,"y":-12.45,"g":"S"},{"x":7.45,"y":-12.75,"g":"S"},{"x":8.25,"y":-13.3,"g":"S"},{"x":9.0,"y":-13.45,"g":"S"},{"x":9.55,"y":-13.4,"g":"S"},{"x":10.2,"y":-13.2,"g":"S"},{"x":10.6,"y":-13.35,"g":"S"},{"x":7.4,"y":-13.65,"g":"S"},{"x":7.65,"y":-14.15,"g":"S"},{"x":8.45,"y":-13.9,"g":"S"},{"x":9.6,"y":-14,"g":"S"},{"x":10.05,"y":-13.9,"g":"S"},{"x":12.2,"y":-13.8,"g":"S"},{"x":4.5,"y":-13.6,"g":"S"},{"x":5.1,"y":-14.6,"g":"S"},{"x":10.15,"y":-14.65,"g":"S"},{"x":10.75,"y":-14.75,"g":"S"},{"x":9.9,"y":-15.25,"g":"S"},{"x":9.0,"y":-15.2,"g":"S"},{"x":8.3,"y":-15.45,"g":"S"},{"x":7.45,"y":-15.8,"g":"S"},{"x":6.6,"y":-16,"g":"S"},{"x":11.55,"y":-15.25,"g":"S"},{"x":12.3,"y":-15.55,"g":"S"},{"x":12.3,"y":-16.25,"g":"S"},{"x":13.9,"y":-15.7,"g":"S"},{"x":15.7,"y":-16,"g":"S"},{"x":11.15,"y":-16.05,"g":"S"},{"x":11.1,"y":-16.5,"g":"S"},{"x":5.3,"y":-16.35,"g":"S"},{"x":5.5,"y":-16.75,"g":"S"},{"x":5.8,"y":-16.9,"g":"S"},{"x":5.6,"y":-17.35,"g":"S"},{"x":8.1,"y":-16.95,"g":"S"},{"x":9.5,"y":-16.85,"g":"S"},{"x":10.05,"y":-17.05,"g":"S"},{"x":10.35,"y":-17.5,"g":"S"},{"x":11.35,"y":-17.3,"g":"S"},{"x":12.45,"y":-17.0,"g":"S"},{"x":14.05,"y":-17.15,"g":"S"},{"x":14.65,"y":-17.25,"g":"S"},{"x":5.8,"y":-18.8,"g":"S"},{"x":7.05,"y":-18.6,"g":"S"},{"x":7.3,"y":-19.2,"g":"S"},{"x":8.8,"y":-18.1,"g":"S"},{"x":9.05,"y":-18.0,"g":"S"},{"x":9.55,"y":-18.2,"g":"S"},{"x":9.1,"y":-18.75,"g":"S"},{"x":10.15,"y":-18.6,"g":"S"},{"x":10.9,"y":-18.35,"g":"S"},{"x":11.8,"y":-17.9,"g":"S"},{"x":12.3,"y":-18.05,"g":"S"},{"x":13.3,"y":-17.95,"g":"S"},{"x":12.55,"y":-18.8,"g":"S"},{"x":13.05,"y":-18.7,"g":"S"},{"x":13.75,"y":-19.0,"g":"S"},{"x":11.05,"y":-19.2,"g":"S"},{"x":11.75,"y":-19.15,"g":"S"},{"x":8.55,"y":-19.4,"g":"S"},{"x":8.9,"y":-19.3,"g":"S"},{"x":9.3,"y":-19.4,"g":"S"},{"x":8.7,"y":-19.6,"g":"S"},{"x":13.5,"y":-19.5,"g":"S"},{"x":5.9,"y":-19.55,"g":"S"},{"x":5.7,"y":-20,"g":"S"},{"x":6.35,"y":-20.05,"g":"S"},{"x":7.4,"y":-20.4,"g":"S"},{"x":7.1,"y":-20.55,"g":"S"},{"x":6.85,"y":-20.7,"g":"S"},{"x":9.05,"y":-20.1,"g":"S"},{"x":10.05,"y":-19.9,"g":"S"},{"x":10.35,"y":-20.55,"g":"S"},{"x":10.3,"y":-20.8,"g":"S"},{"x":12.5,"y":-19.75,"g":"S"},{"x":12.1,"y":-20.6,"g":"S"},{"x":12.55,"y":-20.8,"g":"S"},{"x":13.25,"y":-20.1,"g":"S"},{"x":13.8,"y":-20.5,"g":"S"},{"x":13.65,"y":-20.7,"g":"S"},{"x":13.4,"y":-20.55,"g":"S"},{"x":14.05,"y":-21.35,"g":"S"},{"x":8.65,"y":-20.95,"g":"S"},{"x":4.8,"y":-20.85,"g":"S"},{"x":4.65,"y":-21.1,"g":"S"},{"x":9.5,"y":-21.9,"g":"S"},{"x":10.35,"y":-22,"g":"S"},{"x":10.7,"y":-22.4,"g":"S"},{"x":12.2,"y":-22.4,"g":"S"},{"x":12.55,"y":-22.6,"g":"S"},{"x":11.4,"y":-20.95,"g":"S"},{"x":11.8,"y":-21.3,"g":"S"}
],
"br":[{"b":"a","c":"Severe|(GCS < 8)","v":8.11,"o":1},{"b":"a","c":"Severe|(GCS < 8)","v":8.33,"o":2},{"b":"a","c":"Moderate|(GCS 12-8)","v":8.33,"o":3},{"b":"a","c":"Moderate|(GCS 12-8)","v":8.11,"o":4},{"b":"b","c":"Severe|(GCS < 8)","v":8.95,"o":1},{"b":"b","c":"Severe|(GCS < 8)","v":9.17,"o":2},{"b":"b","c":"Mild|(13-15)","v":9.17,"o":3},{"b":"b","c":"Mild|(13-15)","v":8.95,"o":4},{"b":"c","c":"Moderate|(GCS 12-8)","v":9.78,"o":1},{"b":"c","c":"Moderate|(GCS 12-8)","v":10,"o":2},{"b":"c","c":"Mild|(13-15)","v":10,"o":3},{"b":"c","c":"Mild|(13-15)","v":9.78,"o":4}],
"grid":[{"v":1.25},{"v":3.75},{"v":6.25},{"v":8.75},{"v":11.25}],
"b90":[{"c":"Severe|(GCS < 8)","lo":1,"q1":4,"med":6,"q3":7,"hi":8},{"c":"Moderate|(GCS 12-8)","lo":1,"q1":3,"med":6,"q3":7,"hi":8},{"c":"Mild|(13-15)","lo":1,"q1":4.5,"med":5,"q3":7,"hi":8}],
"b180":[{"c":"Severe|(GCS < 8)","lo":1,"q1":5,"med":6,"q3":8,"hi":8},{"c":"Moderate|(GCS 12-8)","lo":1,"q1":4,"med":6,"q3":7,"hi":8},{"c":"Mild|(13-15)","lo":2,"q1":5,"med":6,"q3":7,"hi":8}]
},
"vconcat":[
{"hconcat":[
{"width":1,"height":545,"view":{"stroke":null},"data":{"values":[{"t":"A"}]},"mark":{"type":"text","fontSize":17,"fontWeight":"bold","align":"left","baseline":"middle","color":"#000000"},"encoding":{"x":{"datum":-27,"scale":{"domain":[0,1]},"axis":null},"y":{"datum":536,"scale":{"domain":[0,545]},"axis":null},"text":{"field":"t"}}},
{"width":473,"height":545,"layer":[
{"data":{"values":[{"v":-15},{"v":-5},{"v":5},{"v":15}]},"mark":{"type":"rule","color":"#f1f1f4","strokeWidth":1},"encoding":{"x":{"field":"v","type":"quantitative","scale":{"domain":[-18.48,18.33],"nice":false,"zero":false},"axis":{"values":[-10,0,10],"labelExpr":"datum.value","title":"X","titleFontSize":17,"titleFontWeight":"normal","titleColor":"#333333","labelFontSize":13,"labelColor":"#555555","tickSize":3,"gridWidth":1.3,"titlePadding":6,"labelPadding":3}}}},
{"data":{"values":[{"v":-15},{"v":-5},{"v":5},{"v":15}]},"mark":{"type":"rule","color":"#f1f1f4","strokeWidth":1},"encoding":{"y":{"field":"v","type":"quantitative","scale":{"domain":[-24.68,24.6],"nice":false,"zero":false},"axis":{"values":[-20,-10,0,10,20],"labelExpr":"datum.value","title":"Y","titleFontSize":17,"titleFontWeight":"normal","titleColor":"#333333","labelFontSize":13,"labelColor":"#555555","tickSize":3,"gridWidth":2,"titlePadding":8,"labelPadding":3}}}},
{"data":{"name":"pts"},"mark":{"type":"point","filled":true,"opacity":1,"size":46},"encoding":{"x":{"field":"x","type":"quantitative","title":"X"},"y":{"field":"y","type":"quantitative","title":"Y"},"color":{"field":"g","type":"nominal","sort":null,"scale":{"domain":["S","M","L"],"range":["#43565A","#D48E55","#109BD7"]},"legend":{"title":null,"orient":"none","legendX":549,"legendY":245,"labelFontSize":13,"labelColor":"#333333","symbolSize":45,"rowPadding":12.8,"labelOffset":9,"labelExpr":"datum.value=='S'?'Severe (GCS < 8)':datum.value=='M'?'Moderate (GCS 8-12)':'Mild (GCS 13-15)'"}}}}
]}
],"spacing":-11},
{"hconcat":[
{"width":331,"height":273,"view":{"stroke":"#bdbdbd"},"layer":[
{"data":{"name":"grid"},"mark":{"type":"rule","color":"#f4f4f4"},"encoding":{"y":{"field":"v","type":"quantitative","title":"GOS-E Score at 90 Days","scale":{"domain":[0.425,13.075],"nice":false,"zero":false},"axis":{"values":[2.5,5,7.5,10,12.5],"format":".1f","titleFontSize":9,"titleFontWeight":"normal","titleColor":"#333333","labelFontSize":6.5,"labelColor":"#777777","tickSize":2,"titlePadding":3,"labelPadding":2}}}},
{"data":{"name":"b90"},"mark":{"type":"rule","color":"#777777"},"encoding":{"x":{"field":"c","type":"nominal","sort":null,"scale":{"domain":["Severe|(GCS < 8)","Moderate|(GCS 12-8)","Mild|(13-15)"],"paddingInner":0.25,"paddingOuter":0.225},"axis":{"title":null,"labelAngle":0,"labelFontSize":6.5,"labelColor":"#777777","labelLineHeight":8,"tickSize":2,"labelPadding":2,"labelExpr":"split(datum.label,'|')"}},"y":{"field":"lo","type":"quantitative","title":"GOS-E Score at 90 Days"},"y2":{"field":"hi"}}},
{"data":{"name":"b90"},"mark":{"type":"bar","stroke":"#6e6e6e","strokeWidth":1},"encoding":{"x":{"field":"c","type":"nominal","sort":null},"y":{"field":"q1","type":"quantitative","title":"GOS-E Score at 90 Days"},"y2":{"field":"q3"},"color":{"field":"c","type":"nominal","legend":null,"scale":{"domain":["Severe|(GCS < 8)","Moderate|(GCS 12-8)","Mild|(13-15)"],"range":["#465759","#D38F57","#109BD6"]}}}},
{"data":{"name":"b90"},"mark":{"type":"tick","color":"#3a4244","size":77,"thickness":1.5},"encoding":{"x":{"field":"c","type":"nominal","sort":null},"y":{"field":"med","type":"quantitative","title":"GOS-E Score at 90 Days"}}},
{"data":{"name":"br"},"mark":{"type":"line","color":"#777777","strokeWidth":1,"interpolate":"linear"},"encoding":{"x":{"field":"c","type":"nominal","sort":null},"y":{"field":"v","type":"quantitative","title":"GOS-E Score at 90 Days"},"detail":{"field":"b"},"order":{"field":"o","type":"quantitative"}}},
{"data":{"values":[{"c":"Severe|(GCS < 8)","v":12.5,"t":"Kruskal-Wallis, p = 0.23"}]},"mark":{"type":"text","align":"left","dx":-17.5,"fontSize":8.4,"color":"#333333"},"encoding":{"x":{"field":"c","type":"nominal","sort":null},"y":{"field":"v","type":"quantitative","title":"GOS-E Score at 90 Days"},"text":{"field":"t"}}},
{"data":{"values":[{"c":"Moderate|(GCS 12-8)","v":8.6,"t":"ns"}]},"mark":{"type":"text","dx":-51.7,"fontSize":8,"color":"#444444"},"encoding":{"x":{"field":"c","type":"nominal","sort":null},"y":{"field":"v","type":"quantitative","title":"GOS-E Score at 90 Days"},"text":{"field":"t"}}},
{"data":{"values":[{"c":"Moderate|(GCS 12-8)","v":9.43,"t":"ns"}]},"mark":{"type":"text","fontSize":8,"color":"#444444"},"encoding":{"x":{"field":"c","type":"nominal","sort":null},"y":{"field":"v","type":"quantitative","title":"GOS-E Score at 90 Days"},"text":{"field":"t"}}},
{"data":{"values":[{"c":"Moderate|(GCS 12-8)","v":10.28,"t":"ns"}]},"mark":{"type":"text","dx":51.7,"fontSize":8,"color":"#444444"},"encoding":{"x":{"field":"c","type":"nominal","sort":null},"y":{"field":"v","type":"quantitative","title":"GOS-E Score at 90 Days"},"text":{"field":"t"}}},
{"data":{"values":[{"c":"Severe|(GCS < 8)","v":13.35,"t":"B"}]},"mark":{"type":"text","align":"left","dx":-87,"fontSize":17,"fontWeight":"bold","color":"#000000"},"encoding":{"x":{"field":"c","type":"nominal","sort":null},"y":{"field":"v","type":"quantitative","title":"GOS-E Score at 90 Days"},"text":{"field":"t"}}}
]},
{"width":332,"height":274,"view":{"stroke":"#bdbdbd"},"layer":[
{"data":{"name":"grid"},"mark":{"type":"rule","color":"#f4f4f4"},"encoding":{"y":{"field":"v","type":"quantitative","title":"GOS-E Score at 180 Days","scale":{"domain":[0.425,13.075],"nice":false,"zero":false},"axis":{"values":[2.5,5,7.5,10,12.5],"format":".1f","titleFontSize":9,"titleFontWeight":"normal","titleColor":"#333333","labelFontSize":6.5,"labelColor":"#777777","tickSize":2,"titlePadding":3,"labelPadding":2}}}},
{"data":{"name":"b180"},"mark":{"type":"rule","color":"#777777"},"encoding":{"x":{"field":"c","type":"nominal","sort":null,"scale":{"domain":["Severe|(GCS < 8)","Moderate|(GCS 12-8)","Mild|(13-15)"],"paddingInner":0.25,"paddingOuter":0.225},"axis":{"title":null,"labelAngle":0,"labelFontSize":6.5,"labelColor":"#777777","labelLineHeight":8,"tickSize":2,"labelPadding":2,"labelExpr":"split(datum.label,'|')"}},"y":{"field":"lo","type":"quantitative","title":"GOS-E Score at 180 Days"},"y2":{"field":"hi"}}},
{"data":{"name":"b180"},"mark":{"type":"bar","stroke":"#6e6e6e","strokeWidth":1},"encoding":{"x":{"field":"c","type":"nominal","sort":null},"y":{"field":"q1","type":"quantitative","title":"GOS-E Score at 180 Days"},"y2":{"field":"q3"},"color":{"field":"c","type":"nominal","legend":null,"scale":{"domain":["Severe|(GCS < 8)","Moderate|(GCS 12-8)","Mild|(13-15)"],"range":["#465759","#D38F57","#109BD6"]}}}},
{"data":{"name":"b180"},"mark":{"type":"tick","color":"#3a4244","size":77,"thickness":1.5},"encoding":{"x":{"field":"c","type":"nominal","sort":null},"y":{"field":"med","type":"quantitative","title":"GOS-E Score at 180 Days"}}},
{"data":{"values":[{"c":"Mild|(13-15)","v":1}]},"mark":{"type":"point","filled":true,"opacity":1,"size":14,"color":"#333333"},"encoding":{"x":{"field":"c","type":"nominal","sort":null},"y":{"field":"v","type":"quantitative","title":"GOS-E Score at 180 Days"}}},
{"data":{"name":"br"},"mark":{"type":"line","color":"#777777","strokeWidth":1,"interpolate":"linear"},"encoding":{"x":{"field":"c","type":"nominal","sort":null},"y":{"field":"v","type":"quantitative","title":"GOS-E Score at 180 Days"},"detail":{"field":"b"},"order":{"field":"o","type":"quantitative"}}},
{"data":{"values":[{"c":"Severe|(GCS < 8)","v":12.5,"t":"Kruskal-Wallis, p = 0.12"}]},"mark":{"type":"text","align":"left","dx":-17.6,"fontSize":8.4,"color":"#333333"},"encoding":{"x":{"field":"c","type":"nominal","sort":null},"y":{"field":"v","type":"quantitative","title":"GOS-E Score at 180 Days"},"text":{"field":"t"}}},
{"data":{"values":[{"c":"Moderate|(GCS 12-8)","v":8.68,"t":"*"}]},"mark":{"type":"text","dx":-52,"fontSize":7,"color":"#444444"},"encoding":{"x":{"field":"c","type":"nominal","sort":null},"y":{"field":"v","type":"quantitative","title":"GOS-E Score at 180 Days"},"text":{"field":"t"}}},
{"data":{"values":[{"c":"Moderate|(GCS 12-8)","v":9.42,"t":"ns"}]},"mark":{"type":"text","fontSize":8,"color":"#444444"},"encoding":{"x":{"field":"c","type":"nominal","sort":null},"y":{"field":"v","type":"quantitative","title":"GOS-E Score at 180 Days"},"text":{"field":"t"}}},
{"data":{"values":[{"c":"Moderate|(GCS 12-8)","v":10.27,"t":"ns"}]},"mark":{"type":"text","dx":52,"fontSize":8,"color":"#444444"},"encoding":{"x":{"field":"c","type":"nominal","sort":null},"y":{"field":"v","type":"quantitative","title":"GOS-E Score at 180 Days"},"text":{"field":"t"}}},
{"data":{"values":[{"c":"Severe|(GCS < 8)","v":13.3,"t":"C"}]},"mark":{"type":"text","align":"left","dx":-96,"fontSize":17,"fontWeight":"bold","color":"#000000"},"encoding":{"x":{"field":"c","type":"nominal","sort":null},"y":{"field":"v","type":"quantitative","title":"GOS-E Score at 180 Days"},"text":{"field":"t"}}}
]}
],"spacing":10,"resolve":{"scale":{"color":"independent"}}}
],"resolve":{"scale":{"color":"independent"}}}
